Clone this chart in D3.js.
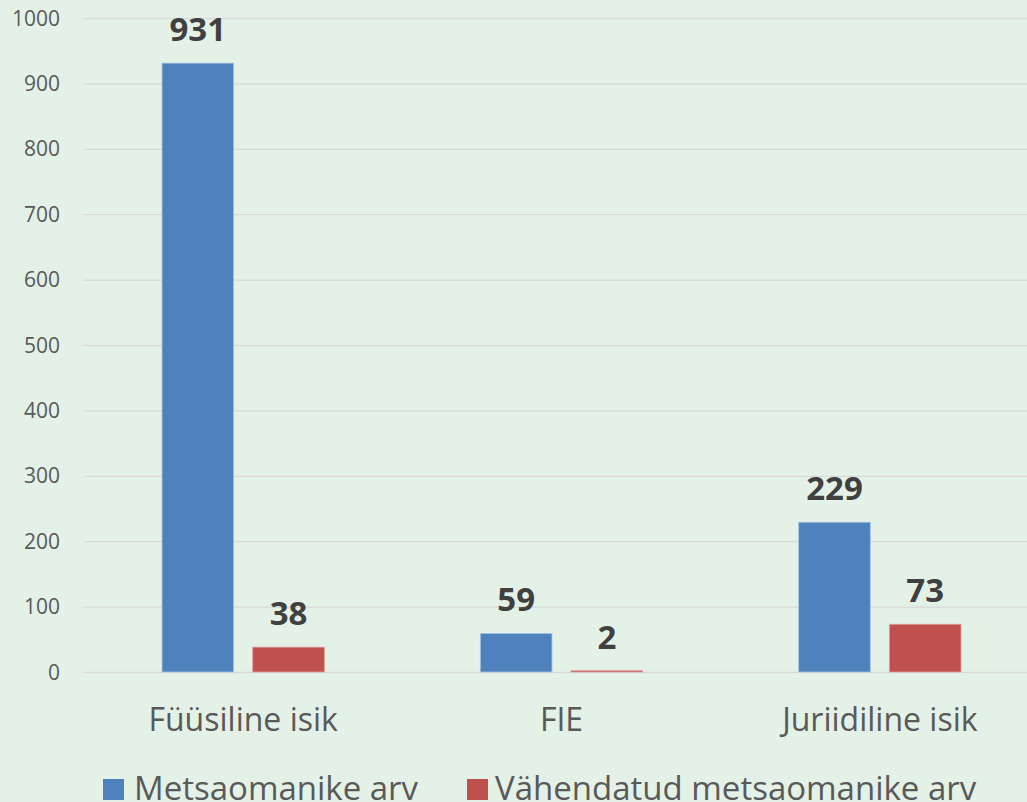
<!DOCTYPE html>
<html>
<head>
<meta charset="utf-8">
<script src="https://cdn.jsdelivr.net/npm/d3@7"></script>
<style>
  body { margin: 0; background: #e4f1e7; }
  svg { display: block; font-family: "Open Sans", sans-serif; }
</style>
</head>
<body>
<script>
// data //
const categories = ["Füüsiline isik", "FIE", "Juriidiline isik"];
const seriesNames = ["Metsaomanike arv", "Vähendatud metsaomanike arv"];
const metsaomanikeArv = [931, 59, 229];
const vahendatudArv = [38, 2, 73];
const yTicks = [0, 100, 200, 300, 400, 500, 600, 700, 800, 900, 1000];

const colors = ["#4f81bd", "#c0504d"];

const W = 1027, H = 802;
const plot = { left: 84, right: 1039, top: 18, bottom: 672 };

const svg = d3.select('body')
  .append('svg')
  .attr('width', W)
  .attr('height', H);

svg.append('rect')
  .attr('width', W).attr('height', H)
  .attr('fill', '#e4f1e7');

// scales //
const x = d3.scaleBand()
  .domain(categories)
  .range([plot.left, plot.right]);

const x1 = d3.scaleBand()
  .domain([0, 1])
  .range([0, x.bandwidth()])
  .paddingInner(0.21)
  .paddingOuter(0.86);

const y = d3.scaleLinear()
  .domain([0, 1000])
  .range([plot.bottom, plot.top]);

// gridlines
const yAxis = svg.append('g')
  .attr('transform', 'translate(' + plot.left + ',0)')
  .call(d3.axisLeft(y)
    .tickValues(yTicks)
    .tickFormat('')
    .tickSize(-(plot.right - plot.left)));

yAxis.select('.domain').remove();
yAxis.selectAll('.tick line').attr('stroke', '#d9d9d9').attr('stroke-width', 1.3);

// y labels
svg.append('g')
  .selectAll('text')
  .data(yTicks)
  .enter().append('text')
  .attr('x', 60)
  .attr('y', d => y(d))
  .attr('dy', '0.36em')
  .attr('text-anchor', 'end')
  .attr('fill', '#595959')
  .style('font-size', '21px')
  .text(d3.format('d'));

// bars //
const rows = categories.map((c, i) => ({ cat: c, vals: [metsaomanikeArv[i], vahendatudArv[i]] }));

const groups = svg.selectAll('.grp')
  .data(rows)
  .enter().append('g')
  .attr('class', 'grp')
  .attr('transform', d => 'translate(' + x(d.cat) + ',0)');

groups.selectAll('rect')
  .data(d => d.vals.map((v, s) => ({ v, s })))
  .enter().append('rect')
  .attr('x', d => x1(d.s))
  .attr('width', x1.bandwidth())
  .attr('y', d => y(d.v))
  .attr('height', d => y(0) - y(d.v))
  .attr('fill', d => colors[d.s])
  .attr('stroke', d => d.s === 0 ? '#a9c4e4' : '#e0a09e')
  .attr('stroke-width', 0.8);

groups.selectAll('.lbl')
  .data(d => d.vals.map((v, s) => ({ v, s })))
  .enter().append('text')
  .attr('class', 'lbl')
  .attr('x', d => x1(d.s) + x1.bandwidth() / 2)
  .attr('y', d => y(d.v) - 22)
  .attr('text-anchor', 'middle')
  .attr('fill', '#404040')
  .style('font-size', '33px')
  .style('font-weight', 'bold')
  .text(d => d.v);

// category labels
svg.append('g')
  .selectAll('text')
  .data(categories)
  .enter().append('text')
  .attr('x', d => x(d) + x.bandwidth() / 2)
  .attr('y', 731)
  .attr('text-anchor', 'middle')
  .attr('fill', '#595959')
  .style('font-size', '32px')
  .text(d => d);

// legend
const legendX = [103, 467];
const legend = svg.append('g')
  .selectAll('g')
  .data(seriesNames)
  .enter().append('g')
  .attr('transform', (d, i) => 'translate(' + legendX[i] + ',0)');

legend.append('rect')
  .attr('y', 779)
  .attr('width', 21)
  .attr('height', 21)
  .attr('fill', (d, i) => colors[i]);

legend.append('text')
  .attr('x', (d, i) => i === 0 ? 31 : 28)
  .attr('y', 800)
  .attr('fill', '#595959')
  .style('font-size', '33px')
  .text(d => d);
</script>
</body>
</html>
